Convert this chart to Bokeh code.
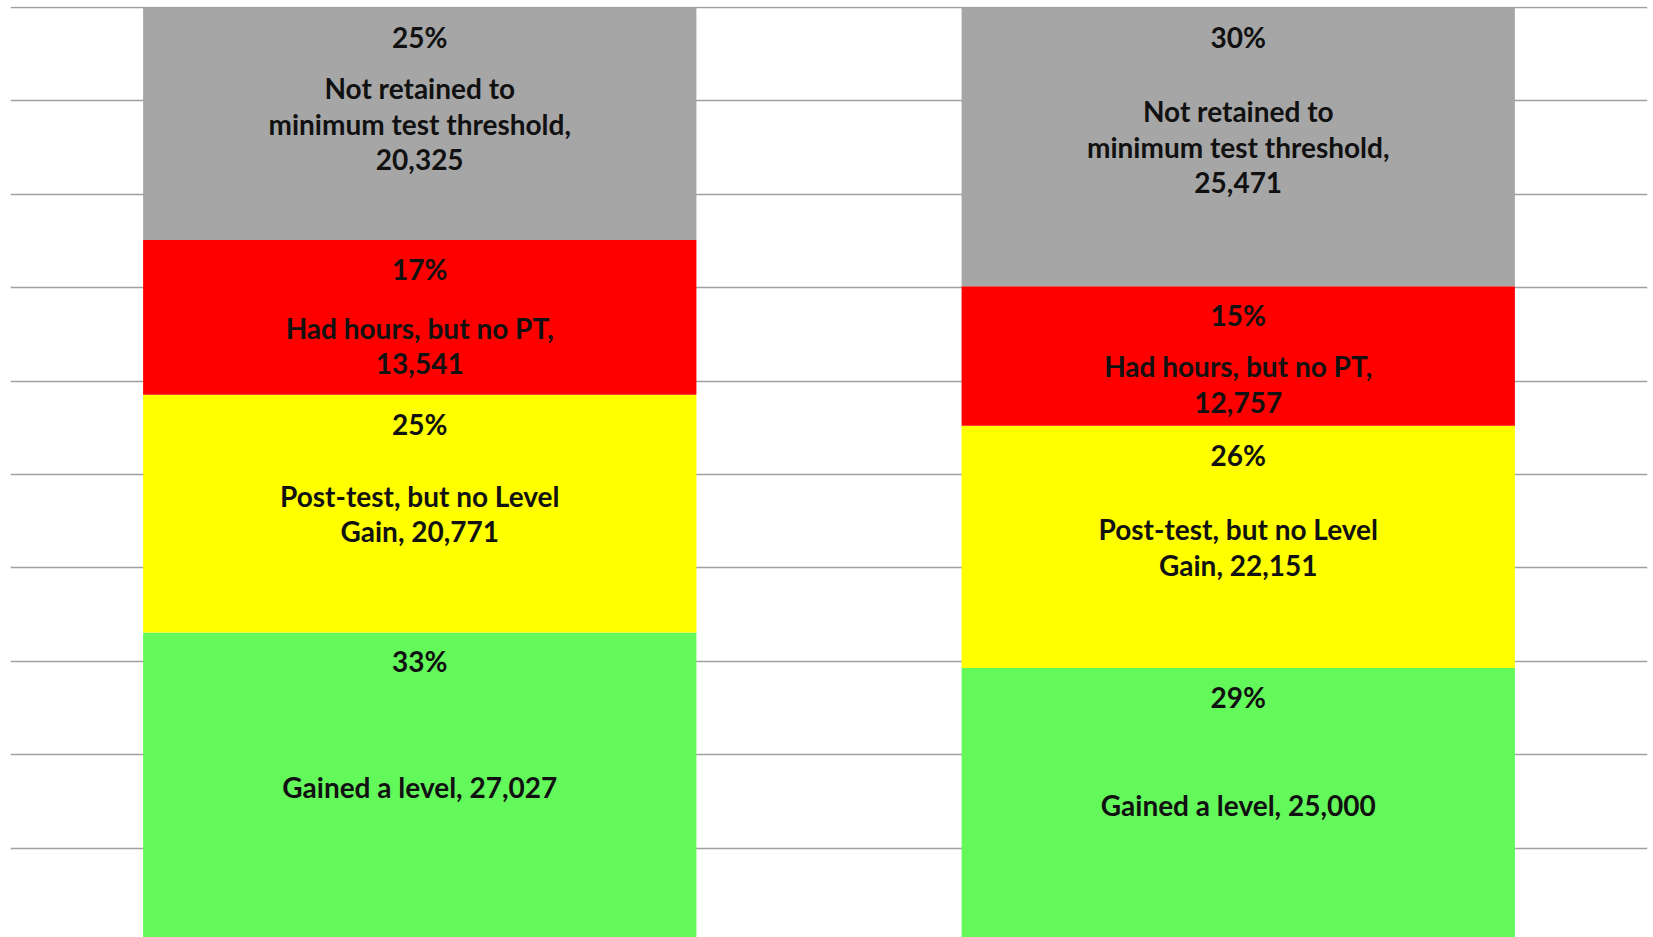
from bokeh.plotting import figure
from bokeh.models import Range1d, FactorRange, ColumnDataSource
from bokeh.core.properties import value
from bokeh.embed import file_html
from bokeh.resources import INLINE

# ---- data ----
periods = ["Period 1", "Period 2"]
segments = ["gained", "posttest", "hours", "notretained"]
segment_names = ["Gained a level", "Post-test, but no Level Gain",
                 "Had hours, but no PT", "Not retained to minimum test threshold"]
gained = [27027, 25000]
posttest = [20771, 22151]
hours = [13541, 12757]
notretained = [20325, 25471]
label_text = {
    "gained": ["Gained a level, 27,027", "Gained a level, 25,000"],
    "posttest": ["Post-test, but no Level\nGain, 20,771", "Post-test, but no Level\nGain, 22,151"],
    "hours": ["Had hours, but no PT,\n13,541", "Had hours, but no PT,\n12,757"],
    "notretained": ["Not retained to\nminimum test threshold,\n20,325",
                    "Not retained to\nminimum test threshold,\n25,471"],
}
colors = ["#63F95B", "#FFFF00", "#FF0000", "#A6A6A6"]

counts = {"gained": gained, "posttest": posttest, "hours": hours, "notretained": notretained}
totals = [sum(counts[s][i] for s in segments) for i in range(len(periods))]
frac = {s: [counts[s][i] / totals[i] for i in range(len(periods))] for s in segments}

W, H = 1653, 937
top_border = 6
frame_h = H - top_border
px = 934.0  # pixels per unit (100%)
y_end = 1.0 + 1.0 / px
y_start = y_end - frame_h / px

p = figure(width=W, height=H, x_range=FactorRange(*periods, range_padding=0),
           y_range=Range1d(y_start, y_end), output_backend="svg", toolbar_location=None,
           min_border_left=10, min_border_right=6, min_border_top=top_border, min_border_bottom=0)
p.axis.visible = False
p.outline_line_color = None
p.xgrid.grid_line_color = None
p.ygrid.ticker = [i / 10 for i in range(11)]
p.ygrid.grid_line_color = "#A0A0A0"
p.ygrid.grid_line_width = 1.5
p.background_fill_color = "white"
p.border_fill_color = "white"

src = ColumnDataSource(dict(period=periods, **frac))
p.vbar_stack(segments, x="period", width=0.676, color=colors, source=src, line_width=0)

font = value("Lato")
for j, s in enumerate(segments):
    bottoms = [sum(frac[t][i] for t in segments[:j]) for i in range(len(periods))]
    tops = [bottoms[i] + frac[s][i] for i in range(len(periods))]
    centers = [(bottoms[i] + tops[i]) / 2 for i in range(len(periods))]
    shift = 28 / px if s == "hours" else 0.0
    pct_y = [t - 29 / px for t in tops]
    lab_y = [c - shift for c in centers]
    pct_txt = [f"{round(f * 100)}%" for f in frac[s]]
    p.text(x=periods, y=pct_y, text=pct_txt, text_font=font, text_font_style="bold",
           text_font_size="28px", text_align="center", text_baseline="middle",
           text_color="#111111")
    p.text(x=periods, y=lab_y, text=label_text[s], text_font=font, text_font_style="bold",
           text_font_size="28px", text_align="center", text_baseline="middle",
           text_color="#111111", text_line_height=1.04)

open("out.html", "w").write(file_html(p, INLINE))
